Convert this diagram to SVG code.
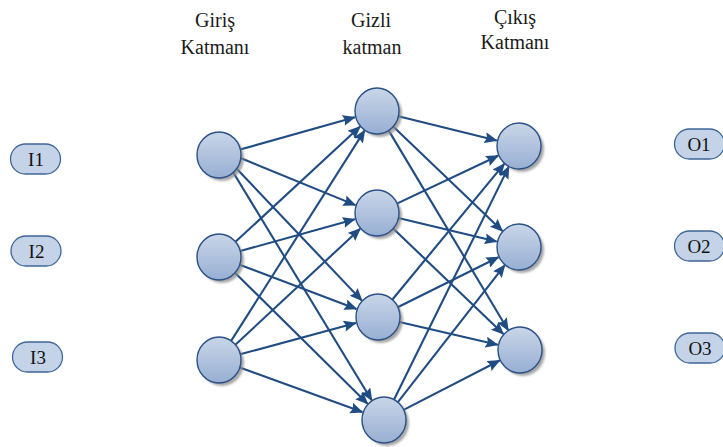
<svg xmlns="http://www.w3.org/2000/svg" width="723" height="447" viewBox="0 0 723 447">
<defs>
<linearGradient id="g" x1="0" y1="0" x2="0" y2="1">
<stop offset="0" stop-color="#c9d6e8"/>
<stop offset="1" stop-color="#97afd3"/>
</linearGradient>
<filter id="sh" x="-30%" y="-30%" width="160%" height="160%">
<feGaussianBlur stdDeviation="1.3"/>
</filter>
<marker id="ah" markerUnits="userSpaceOnUse" markerWidth="14" markerHeight="12" refX="12" refY="5.5" orient="auto">
<path d="M0,0 L13,5.5 L0,11 L2,5.5 z" fill="#1f4c82"/>
</marker>
</defs>
<style>
.hd{font-family:"Liberation Serif","Times New Roman",serif;font-size:20px;fill:#1a1a1a;text-anchor:middle}
.lb{font-family:"Liberation Serif","Times New Roman",serif;font-size:19px;fill:#111;text-anchor:middle}
.pill{fill:#c4d3e7;stroke:#3f6699;stroke-width:1.3}
.sh{fill:#8a8a8a;opacity:0.75;filter:url(#sh)}
.nd{fill:url(#g);stroke:#2b5186;stroke-width:1.4}
.cn line{stroke:#1f4c82;stroke-width:2.1;marker-end:url(#ah)}
</style>

<g id="headers">
<text class="hd" x="215" y="27">Giriş</text>
<text class="hd" x="215" y="54">Katmanı</text>
<text class="hd" x="371" y="27">Gizli</text>
<text class="hd" x="372" y="54">katman</text>
<text class="hd" x="515" y="24">Çıkış</text>
<text class="hd" x="515" y="49">Katmanı</text>
</g>

<g id="I1"><rect class="pill" x="10.5" y="144" width="50" height="30" rx="15"/><text class="lb" x="36" y="166">I1</text></g>
<g id="I2"><rect class="pill" x="11" y="236" width="50" height="30" rx="15"/><text class="lb" x="36.5" y="258">I2</text></g>
<g id="I3"><rect class="pill" x="12.5" y="342" width="50" height="30" rx="15"/><text class="lb" x="38" y="364">I3</text></g>
<g id="O1"><rect class="pill" x="674.5" y="129" width="50" height="30" rx="15"/><text class="lb" x="699" y="151">O1</text></g>
<g id="O2"><rect class="pill" x="674.5" y="231" width="50" height="30" rx="15"/><text class="lb" x="699" y="253">O2</text></g>
<g id="O3"><rect class="pill" x="675" y="333" width="50" height="30" rx="15"/><text class="lb" x="700" y="355">O3</text></g>

<g id="connectors" class="cn">
<line x1="240.2" y1="149.6" x2="354.8" y2="117.2"/>
<line x1="240.5" y1="158" x2="355.4" y2="205.1"/>
<line x1="236" y1="168" x2="361.9" y2="300.6"/>
<line x1="233" y1="172" x2="371.8" y2="400.5"/>
<line x1="235.2" y1="242.1" x2="360.1" y2="126.6"/>
<line x1="240.2" y1="251.1" x2="354.8" y2="219.2"/>
<line x1="239.6" y1="264.8" x2="356.5" y2="308.9"/>
<line x1="234.7" y1="272.5" x2="367.6" y2="403.8"/>
<line x1="230.8" y1="341.4" x2="364.7" y2="130.4"/>
<line x1="235.1" y1="345" x2="360.2" y2="228.7"/>
<line x1="240.2" y1="354.3" x2="355.8" y2="323"/>
<line x1="239.7" y1="367.5" x2="362.4" y2="412.1"/>
<line x1="398.4" y1="116.3" x2="496.7" y2="140.5"/>
<line x1="392.9" y1="126.2" x2="502.4" y2="231.1"/>
<line x1="388.3" y1="129.9" x2="508.2" y2="330.3"/>
<line x1="396.9" y1="203.6" x2="498.2" y2="155.8"/>
<line x1="398.4" y1="218.1" x2="496.6" y2="241.6"/>
<line x1="392.9" y1="228.2" x2="503.4" y2="334.1"/>
<line x1="392" y1="300" x2="504.4" y2="163.7"/>
<line x1="397.7" y1="307.2" x2="498.4" y2="257.2"/>
<line x1="399.4" y1="322" x2="497.6" y2="344.8"/>
<line x1="393.7" y1="400.3" x2="508.8" y2="166.6"/>
<line x1="397.5" y1="402.7" x2="504.8" y2="265.1"/>
<line x1="403.6" y1="409.9" x2="499.6" y2="360.5"/>
</g>

<g id="in1"><ellipse class="sh" cx="222" cy="158" rx="22" ry="23"/><ellipse class="nd" cx="219" cy="155" rx="22" ry="23"/></g>
<g id="in2"><ellipse class="sh" cx="222" cy="260" rx="22" ry="23"/><ellipse class="nd" cx="219" cy="257" rx="22" ry="23"/></g>
<g id="in3"><ellipse class="sh" cx="222" cy="363" rx="22" ry="23"/><ellipse class="nd" cx="219" cy="360" rx="22" ry="23"/></g>
<g id="h1"><ellipse class="sh" cx="380" cy="114" rx="22" ry="23"/><ellipse class="nd" cx="377" cy="111" rx="22" ry="23"/></g>
<g id="h2"><ellipse class="sh" cx="380" cy="216" rx="22" ry="23"/><ellipse class="nd" cx="377" cy="213" rx="22" ry="23"/></g>
<g id="h3"><ellipse class="sh" cx="381" cy="320" rx="22" ry="23"/><ellipse class="nd" cx="378" cy="317" rx="22" ry="23"/></g>
<g id="h4"><ellipse class="sh" cx="387" cy="423" rx="22" ry="23"/><ellipse class="nd" cx="384" cy="420" rx="22" ry="23"/></g>
<g id="out1"><ellipse class="sh" cx="522" cy="149" rx="22" ry="23"/><ellipse class="nd" cx="519" cy="146" rx="22" ry="23"/></g>
<g id="out2"><ellipse class="sh" cx="522" cy="250" rx="22" ry="23"/><ellipse class="nd" cx="519" cy="247" rx="22" ry="23"/></g>
<g id="out3"><ellipse class="sh" cx="523" cy="353" rx="22" ry="23"/><ellipse class="nd" cx="520" cy="350" rx="22" ry="23"/></g>
</svg>
